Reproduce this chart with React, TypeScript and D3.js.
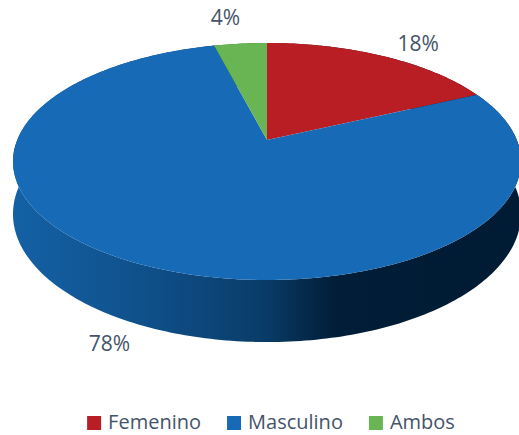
import React, { useEffect, useRef } from "react";
import * as d3 from "d3";

const categories = ["Femenino", "Masculino", "Ambos"];
const values = [18, 78, 4];
const labels = ["18%", "78%", "4%"];
const colors = ["#B81E24", "#176AB5", "#69B553"];

const W = 519;
const H = 435;

export default function App() {
  const ref = useRef<SVGSVGElement>(null);
  useEffect(() => {
    const svg = d3.select(ref.current);
    svg.selectAll("*").remove();
    const cx = 267, cy = 140, A = 114.6, B = 249.8, p = 0.1814, depth = 50.8;
    const proj = (a: number, r = 1, h = 0): [number, number] => {
      const X = r * Math.sin(a);
      const Z = -r * Math.cos(a);
      const w = 1 - p * Z;
      return [cx + (B * X) / w, cy + (A * Z + h) / w];
    };
    const pie = d3.pie<number>().sort(null).value((d) => d);
    const arcs = pie(values);
    const defs = svg.append("defs");
    const half = B / Math.sqrt(1 - p * p);
    const x0 = cx - half, x1 = cx + half;
    const stops = [
      [0, 0.12], [0.23, 0.3], [0.4, 0.48], [0.5, 0.6], [0.57, 0.8], [0.64, 0.97], [1, 1],
    ];
    colors.forEach((c, i) => {
      const g = defs
        .append("linearGradient")
        .attr("id", "side" + i)
        .attr("gradientUnits", "userSpaceOnUse")
        .attr("x1", x0).attr("x2", x1).attr("y1", 0).attr("y2", 0);
      const h0 = d3.hsl(c);
      const target = d3.hsl(h0.h, 1, 0.1).formatHex();
      const dark = d3.interpolateRgb(c, target);
      stops.forEach(([o, t]) => g.append("stop").attr("offset", o).attr("stop-color", dark(t)));
    });

    const sample = (a0: number, a1: number) => {
      const n = Math.max(2, Math.ceil(((a1 - a0) / (Math.PI * 2)) * 360));
      return d3.range(n + 1).map((k) => a0 + ((a1 - a0) * k) / n);
    };

    const line = d3.line();
    const order = arcs
      .map((a, i) => ({ a, i }))
      .sort(
        (u, v) =>
          -Math.cos((u.a.startAngle + u.a.endAngle) / 2) +
          Math.cos((v.a.startAngle + v.a.endAngle) / 2)
      )
      .reverse();
    order.forEach(({ a, i }) => {
      const angs = sample(a.startAngle, a.endAngle);
      const top = angs.map((t) => proj(t, 1, 0));
      const bot = angs.map((t) => proj(t, 1, depth)).reverse();
      svg
        .append("path")
        .attr("d", line([...top, ...bot]) + "Z")
        .attr("fill", `url(#side${i})`);
    });
    arcs.forEach((a, i) => {
      const angs = sample(a.startAngle, a.endAngle);
      const pts: [number, number][] = [[cx, cy], ...angs.map((t) => proj(t, 1, 0))];
      svg.append("path").attr("d", line(pts) + "Z").attr("fill", colors[i]);
    });

    // labels
    arcs.forEach((a, i) => {
      const m = (a.startAngle + a.endAngle) / 2;
      const front = -Math.cos(m) > 0;
      const anc = proj(m, 1, front ? depth : 0);
      let dx = (anc[0] - cx) * 2.2, dy = anc[1] - cy;
      const len = Math.hypot(dx, dy);
      dx /= len; dy /= len;
      const t = svg
        .append("text")
        .text(labels[i])
        .attr("font-family", "'Open Sans', sans-serif")
        .attr("font-size", 21)
        .attr("fill", "#44546A")
        .attr("text-anchor", "middle")
        .attr("dominant-baseline", "central");
      const wdt = (t.node() as SVGTextElement).getComputedTextLength();
      const off = 15 + Math.abs(dx) * (wdt / 2) + Math.abs(dy) * 7.5;
      t.attr("x", anc[0] + dx * off).attr("y", anc[1] + dy * off - 1.5);
    });

    // legend
    const lg = svg.append("g");
    let x = 0;
    const sq = 14, gap = 7, spacing = 26, base = 429;
    categories.forEach((c, i) => {
      lg.append("rect")
        .attr("x", x).attr("y", base - 13).attr("width", sq).attr("height", sq)
        .attr("fill", colors[i]);
      const t = lg
        .append("text")
        .text(c)
        .attr("x", x + sq + gap)
        .attr("y", base)
        .attr("font-family", "'Open Sans', sans-serif")
        .attr("font-size", 20)
        .attr("fill", "#44546A");
      const wdt = (t.node() as SVGTextElement).getComputedTextLength();
      x += sq + gap + wdt + (i < categories.length - 1 ? spacing : 0);
    });
    lg.attr("transform", `translate(${271 - x / 2},0)`);
  }, []);
  return (
    <svg
      ref={ref}
      width={W}
      height={H}
      style={{ position: "absolute", left: 0, top: 0, background: "#fff" }}
    />
  );
}
